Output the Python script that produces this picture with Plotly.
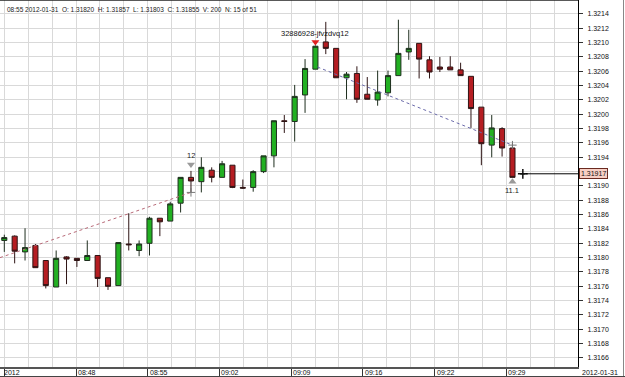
import plotly.graph_objects as go

# ---------------- data ----------------
idx = list(range(51))
opens = [1.31824, 1.31830, 1.31808, 1.31817, 1.31796, 1.31759, 1.31801, 1.31799, 1.31796, 1.31803,
         1.31772, 1.31761, 1.31819, 1.31810, 1.31820, 1.31855, 1.31851, 1.31876, 1.31912, 1.31906,
         1.31922, 1.31912, 1.31929, 1.31898, 1.31898, 1.31920, 1.31942, 1.31991, 1.31990, 1.32027,
         1.32063, 1.32101, 1.32092, 1.32051, 1.32057, 1.32028, 1.32020, 1.32030, 1.32054, 1.32087,
         1.32099, 1.32076, 1.32066, 1.32066, 1.32062, 1.32053, 1.32010, 1.31957, 1.31980, 1.31953,
         1.31917]
highs = [1.31832, 1.31831, 1.31841, 1.31819, 1.31796, 1.31810, 1.31802, 1.31799, 1.31824, 1.31803,
         1.31772, 1.31821, 1.31862, 1.31824, 1.31857, 1.31855, 1.31878, 1.31912, 1.31921, 1.31940,
         1.31926, 1.31935, 1.31929, 1.31909, 1.31922, 1.31942, 1.31991, 1.31999, 1.32041, 1.32077,
         1.32096, 1.32129, 1.32092, 1.32059, 1.32067, 1.32052, 1.32061, 1.32061, 1.32132, 1.32118,
         1.32099, 1.32081, 1.32080, 1.32081, 1.32072, 1.32053, 1.32010, 1.31999, 1.31982, 1.31960,
         1.31917]
lows = [1.31808, 1.31792, 1.31796, 1.31786, 1.31757, 1.31759, 1.31763, 1.31787, 1.31796, 1.31759,
        1.31755, 1.31761, 1.31810, 1.31802, 1.31803, 1.31830, 1.31851, 1.31863, 1.31891, 1.31891,
        1.31905, 1.31912, 1.31897, 1.31896, 1.31892, 1.31918, 1.31926, 1.31974, 1.31962, 1.32002,
        1.32063, 1.32084, 1.32051, 1.32021, 1.32016, 1.32021, 1.32012, 1.32025, 1.32054, 1.32076,
        1.32050, 1.32050, 1.32059, 1.32062, 1.32054, 1.31981, 1.31929, 1.31940, 1.31941, 1.31912,
        1.31917]
closes = [1.31828, 1.31809, 1.31814, 1.31786, 1.31761, 1.31799, 1.31798, 1.31796, 1.31803, 1.31771,
          1.31760, 1.31821, 1.31818, 1.31819, 1.31855, 1.31850, 1.31875, 1.31912, 1.31907, 1.31926,
          1.31912, 1.31931, 1.31898, 1.31897, 1.31920, 1.31942, 1.31991, 1.31990, 1.32025, 1.32064,
          1.32095, 1.32092, 1.32051, 1.32056, 1.32021, 1.32021, 1.32031, 1.32054, 1.32085, 1.32092,
          1.32077, 1.32059, 1.32063, 1.32062, 1.32054, 1.32008, 1.31959, 1.31981, 1.31953, 1.31912,
          1.31917]

x_tick_labels = ["2012", "08:48", "08:55", "09:02", "09:09", "09:16", "09:22", "09:29"]
x_tick_step = 6.914        # bars between labelled ticks (irregular time spacing)
x_grid_step = 2.305        # bars between vertical grid lines
y_ticks = [round(1.3166 + 0.0002 * k, 4) for k in range(26)]

last_price = 1.31917
header = ("08:55 2012-01-31\u00a0\u00a0O: 1.31820\u00a0\u00a0H: 1.31857\u00a0\u00a0"
          "L: 1.31803\u00a0\u00a0C: 1.31855\u00a0\u00a0V: 200\u00a0\u00a0N: 15 of 51")

# trend lines (bar index, price)
red_trend_x = [-0.415, 18]
red_trend_y = [1.31800, 1.31891]
blue_trend_x = [30.2, 49]
blue_trend_y = [1.32066, 1.31957]

# pivot markers
pivot_top = dict(i=30, y=1.32101, text="32886928-jfvzdvq12")
pivot_mid = dict(i=18, y=1.31930, text="12")
pivot_bot = dict(i=49, y=1.31906, text="11.1")

x_range = [-0.415, 55.32]
y_range = [1.316474, 1.321595]

GREEN = "#22b022"
RED = "#b51d22"
GRID = "#d9d9d9"
FONT = "Liberation Sans, Arial, sans-serif"

fig = go.Figure()

fig.add_trace(go.Scatter(x=red_trend_x, y=red_trend_y, mode="lines",
                         line=dict(color="#b86a78", width=1, dash="dot"), hoverinfo="skip"))
fig.add_trace(go.Scatter(x=blue_trend_x, y=blue_trend_y, mode="lines",
                         line=dict(color="#6a6aaa", width=1, dash="dot"), hoverinfo="skip"))

fig.add_trace(go.Candlestick(
    x=idx, open=opens, high=highs, low=lows, close=closes,
    increasing=dict(fillcolor=GREEN, line=dict(color="#1e2e1e", width=1)),
    decreasing=dict(fillcolor=RED, line=dict(color="#2e1414", width=1)),
    whiskerwidth=0, hoverinfo="skip"))

# small crosses at trend end points and on the last (doji) bar
fig.add_trace(go.Scatter(x=[red_trend_x[1], blue_trend_x[1]], y=[red_trend_y[1], blue_trend_y[1]],
                         mode="markers", marker=dict(symbol="cross-thin", size=6,
                                                     line=dict(color="#777777", width=1)),
                         hoverinfo="skip"))
fig.add_trace(go.Scatter(x=[idx[-1]], y=[closes[-1]], mode="markers",
                         marker=dict(symbol="cross-thin", size=7, line=dict(color="#111111", width=1.5)),
                         hoverinfo="skip"))

# pivot triangles
fig.add_trace(go.Scatter(x=[pivot_top["i"]], y=[pivot_top["y"]], mode="markers",
                         marker=dict(symbol="triangle-down", size=7, color="#e02020"), hoverinfo="skip"))
fig.add_trace(go.Scatter(x=[pivot_mid["i"]], y=[pivot_mid["y"]], mode="markers",
                         marker=dict(symbol="triangle-down", size=7, color="#9a9a9a"), hoverinfo="skip"))
fig.add_trace(go.Scatter(x=[pivot_bot["i"]], y=[pivot_bot["y"]], mode="markers",
                         marker=dict(symbol="triangle-up", size=7, color="#9a9a9a"), hoverinfo="skip"))

annotations = []
annotations.append(dict(x=pivot_top["i"], y=pivot_top["y"], text=pivot_top["text"], showarrow=False,
                        yanchor="bottom", yshift=2, font=dict(size=7.5, color="#111", family=FONT)))
annotations.append(dict(x=pivot_mid["i"], y=pivot_mid["y"], text=pivot_mid["text"], showarrow=False,
                        yanchor="bottom", yshift=2, font=dict(size=7.5, color="#222", family=FONT)))
annotations.append(dict(x=pivot_bot["i"], y=pivot_bot["y"], text=pivot_bot["text"], showarrow=False,
                        yanchor="top", yshift=-2, font=dict(size=7.5, color="#222", family=FONT)))

# x tick labels, left-aligned next to the tick marks
for m, lab in enumerate(x_tick_labels):
    annotations.append(dict(x=m * x_tick_step, y=0, xref="x", yref="paper", text=lab, showarrow=False,
                            xanchor="left", yanchor="top", xshift=-2 if m == 0 else 0, yshift=0,
                            font=dict(size=7, color="#111", family=FONT)))
annotations.append(dict(x=1, y=0, xref="paper", yref="paper", text="2012-01-31", showarrow=False,
                        xanchor="left", yanchor="top", xshift=2, yshift=0,
                        font=dict(size=7, color="#111", family=FONT)))

# header line
annotations.append(dict(x=0, y=1, xref="paper", yref="paper", text=header, showarrow=False,
                        xanchor="left", yanchor="top", xshift=5, yshift=-4,
                        font=dict(size=6.5, color="#222", family=FONT)))

# last price box (covers the 1.3192 axis label, as in the reference)
annotations.append(dict(x=1, y=last_price, xref="paper", yref="y", text=f"{last_price:.5f}",
                        showarrow=False, xanchor="left", xshift=1, bgcolor="#f8cfc4",
                        bordercolor="#6a2a20", borderwidth=1, borderpad=1,
                        font=dict(size=7, color="#111", family=FONT)))

shapes = [
    dict(type="line", xref="x", yref="y", x0=idx[-1] + 0.3, x1=x_range[1], y0=last_price, y1=last_price,
         line=dict(color="#000000", width=1)),
    dict(type="line", xref="paper", yref="paper", x0=0, x1=1, y0=1, y1=1,
         line=dict(color="#222222", width=1.5)),
    dict(type="line", xref="paper", yref="paper", x0=623.5 / 578, x1=623.5 / 578, y0=1, y1=-10 / 367,
         line=dict(color="#888888", width=1)),
    dict(type="line", xref="paper", yref="paper", x0=0, x1=625 / 578, y0=-9.5 / 367, y1=-9.5 / 367,
         line=dict(color="#444444", width=1)),
]

y_ticktext = ["" if abs(v - last_price) < 0.0001 else f"{v:.4f}" for v in y_ticks]

n_grid = int(x_range[1] / x_grid_step) + 1
fig.update_layout(
    width=625, height=377,
    margin=dict(l=0, r=47, t=0, b=10),
    paper_bgcolor="white", plot_bgcolor="white",
    showlegend=False,
    annotations=annotations, shapes=shapes,
    font=dict(family=FONT, size=7, color="#111"),
    xaxis=dict(
        range=x_range, rangeslider=dict(visible=False),
        tickmode="array", tickvals=[m * x_tick_step for m in range(len(x_tick_labels))],
        showticklabels=False, ticks="outside", ticklen=10, tickcolor="#333", tickwidth=1,
        showgrid=True, gridcolor=GRID, gridwidth=1,
        minor=dict(tickmode="array", tickvals=[k * x_grid_step for k in range(n_grid)],
                   showgrid=True, gridcolor=GRID, ticks=""),
        showline=True, linecolor="#555555", linewidth=2, zeroline=False, fixedrange=True,
    ),
    yaxis=dict(
        range=y_range, side="right",
        tickmode="array", tickvals=y_ticks, ticktext=y_ticktext,
        ticks="outside", ticklen=4, tickcolor="#333", tickwidth=1,
        tickfont=dict(size=7, color="#111", family=FONT), ticklabelstandoff=3,
        showgrid=True, gridcolor=GRID, gridwidth=1,
        showline=True, linecolor="#000000", linewidth=1, zeroline=False, fixedrange=True,
    ),
)

fig.write_html("out.html")
